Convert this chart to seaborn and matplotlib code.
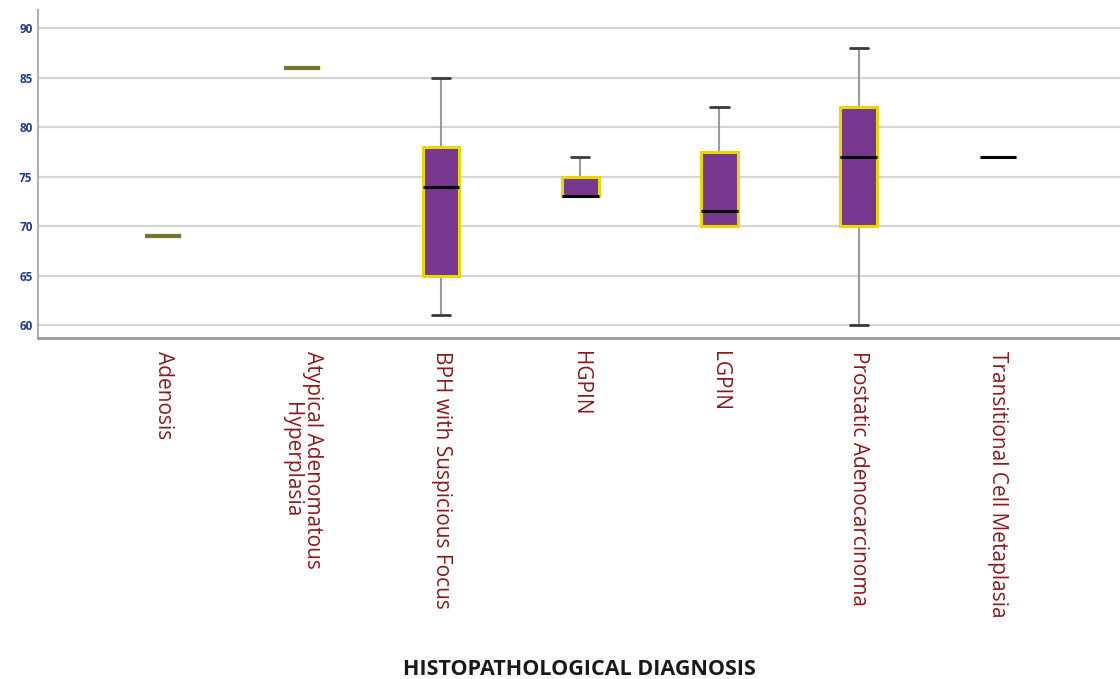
import matplotlib
matplotlib.use("Agg")
import matplotlib.pyplot as plt
import seaborn as sns
import pandas as pd

# Age observations per histopathological diagnosis
categories = [
    "Adenosis",
    "Atypical Adenomatous\nHyperplasia",
    "BPH with Suspicious Focus",
    "HGPIN",
    "LGPIN",
    "Prostatic Adenocarcinoma",
    "Transitional Cell Metaplasia",
]
adenosis = [69]
atypical = [86]
bph_suspicious = [61, 65, 74, 78, 85]
hgpin = [73, 73, 73, 75, 77]
lgpin = [70, 70, 71.5, 77.5, 82]
prostatic_ca = [60, 70, 77, 82, 88]
transitional = [77]

y_ticks = [60, 65, 70, 75, 80, 85, 90]

groups = [adenosis, atypical, bph_suspicious, hgpin, lgpin, prostatic_ca, transitional]
df = pd.DataFrame(
    [(cat, v) for cat, vals in zip(categories, groups) for v in vals],
    columns=["diagnosis", "age"],
)

sns.set_style("white")
plt.rcParams["font.family"] = ["Open Sans", "DejaVu Sans"]

fig = plt.figure(figsize=(11.2, 6.79), dpi=100)
ax = fig.add_axes([0.034, 0.502, 0.966, 0.483])

ax.yaxis.grid(True, color="#d6d6d6", linewidth=1.6, zorder=0)
ax.set_axisbelow(True)

purple = "#78378f"
yellow = "#e8d800"
sns.boxplot(
    data=df, x="diagnosis", y="age", order=categories, ax=ax,
    color=purple, saturation=1, width=0.26, linewidth=2.2,
    showfliers=False, whis=1.5,
    boxprops=dict(edgecolor=yellow, zorder=2),
    whiskerprops=dict(color="#9a9a9a", linewidth=1.5, zorder=1.5),
    capprops=dict(color="#3a3a3a", linewidth=2, zorder=1.5),
    medianprops=dict(color="black", linewidth=2.2, zorder=2.5),
)

# single-observation groups on the left are drawn as olive bars
for line in ax.lines:
    xs, ys = line.get_xdata(), line.get_ydata()
    if len(xs) == 2 and ys[0] == ys[1] and max(xs) < 1.5 and abs(xs[1] - xs[0]) > 0.2:
        line.set_color("#7a7630")
        line.set_linewidth(3)

ax.set_xlim(-0.9, 6.88)
ax.set_ylim(58.7, 91.8)
ax.set_yticks(y_ticks)
ax.set_yticklabels([str(t) for t in y_ticks], fontsize=8.5, fontweight="bold",
                   color="#1f3c8c")
ax.set_xticks(range(len(categories)))
ax.set_xticklabels(categories, rotation=270, fontsize=15, color="#8c1a1a",
                   va="top", ha="center", linespacing=1.0)
ax.tick_params(axis="both", length=0, pad=4)
ax.tick_params(axis="x", pad=9)

for side in ("top", "right"):
    ax.spines[side].set_visible(False)
ax.spines["left"].set_color("#b0b0b0")
ax.spines["bottom"].set_color("#9a9a9a")
ax.spines["left"].set_linewidth(1.5)
ax.spines["bottom"].set_linewidth(2)

ax.set_ylabel("")
ax.set_xlabel("")
fig.text(0.517, -0.002, "HISTOPATHOLOGICAL DIAGNOSIS", ha="center", va="bottom",
         fontsize=15.5, fontweight="bold", color="#1a1a1a")

fig.savefig("out.png", dpi=100, facecolor="white")
